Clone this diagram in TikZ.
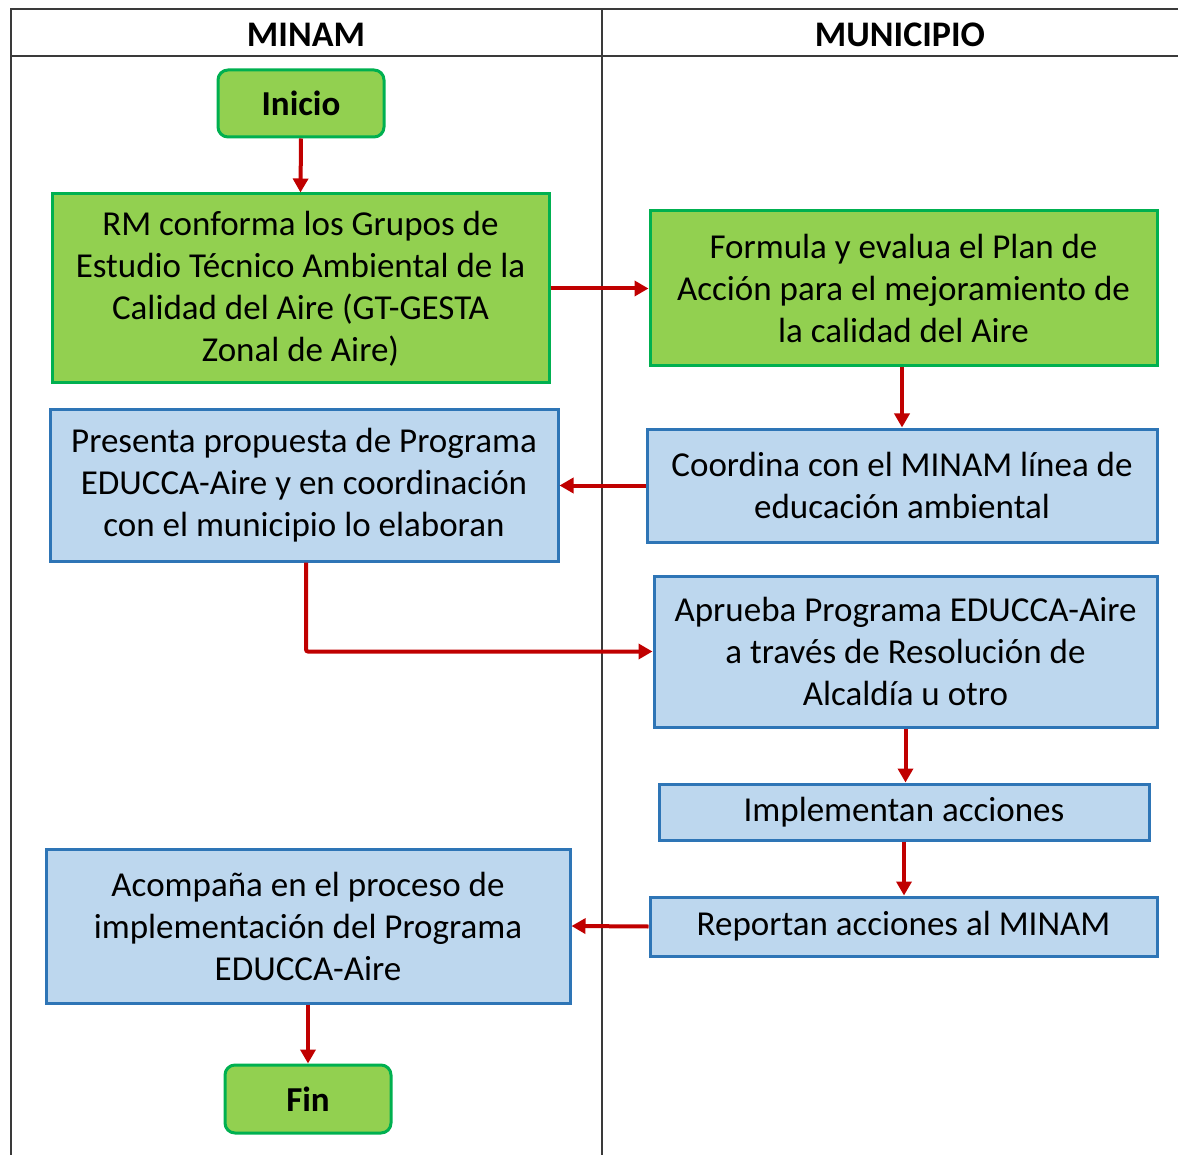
\documentclass[tikz,border=0pt]{standalone}
\usepackage{fontspec}
\setmainfont{Carlito}
\usetikzlibrary{arrows.meta}
\definecolor{gfill}{HTML}{92D050}
\definecolor{gline}{HTML}{00B050}
\definecolor{bfill}{HTML}{BDD7EE}
\definecolor{bline}{HTML}{2E75B6}
\definecolor{arrred}{HTML}{C00000}
\definecolor{lanegray}{HTML}{3A3A3A}
\tikzset{
  txt/.style={font=\fontsize{35}{42}\selectfont, align=center, inner sep=0pt},
  greenbox/.style={txt, draw=gline, fill=gfill, line width=3pt},
  bluebox/.style={txt, draw=bline, fill=bfill, line width=3pt},
  termbox/.style={greenbox, rounded corners=10pt, font=\fontsize{35}{42}\selectfont\bfseries},
  arr/.style={draw=arrred, line width=4pt, -{Triangle[length=14pt,width=15pt]}},
  lane/.style={draw=lanegray, line width=2pt},
  head/.style={font=\fontsize{36}{40}\selectfont\bfseries, inner sep=0pt}
}
\begin{document}
\begin{tikzpicture}[x=1pt,y=1pt]
\useasboundingbox (0,0) rectangle (1178,-1155);
% lanes
\draw[lane, line width=2.5pt] (1180,-9) -- (11,-9) -- (11,-1157);
\draw[lane] (11,-56) -- (1180,-56);
\draw[lane] (602,-9) -- (602,-1157);
\node[head] (hminam) at (306,-35) {MINAM};
\node[head] (hmuni) at (900,-35) {MUNICIPIO};
% nodes
\node[termbox, minimum width=166pt, minimum height=67pt] (ini) at (301,-103.5) {Inicio};
\node[greenbox, minimum width=497pt, minimum height=189pt] (rm) at (300.5,-288.5)
  {RM conforma los Grupos de\\Estudio Técnico Ambiental de la\\Calidad del Aire (GT-GESTA\\Zonal de Aire)};
\node[greenbox, minimum width=507pt, minimum height=155pt] (form) at (903.5,-288.5)
  {Formula y evalua el Plan de\\Acción para el mejoramiento de\\la calidad del Aire};
\node[bluebox, minimum width=508pt, minimum height=151pt] (pres) at (304,-485.5)
  {Presenta propuesta de Programa\\EDUCCA-Aire y en coordinación\\con el municipio lo elaboran};
\node[bluebox, minimum width=510pt, minimum height=113pt] (coord) at (902,-485.5)
  {Coordina con el MINAM línea de\\educación ambiental};
\node[bluebox, minimum width=503pt, minimum height=151pt] (apr) at (905.5,-651.5)
  {Aprueba Programa EDUCCA-Aire\\a través de Resolución de\\Alcaldía u otro};
\node[bluebox, minimum width=490pt, minimum height=56pt] (impl) at (904,-812)
  {Implementan acciones};
\node[bluebox, minimum width=507pt, minimum height=59pt] (rep) at (903.5,-926.5)
  {Reportan acciones al MINAM};
\node[bluebox, minimum width=524pt, minimum height=154pt] (acom) at (308,-926)
  {Acompaña en el proceso de\\implementación del Programa\\EDUCCA-Aire};
\node[termbox, minimum width=166pt, minimum height=68pt] (fin) at (308,-1099) {Fin};
% connectors
\draw[arr] (ini.south) -- (rm.north);
\draw[arr] (rm.east) -- (form.west);
\draw[arr] (form.south -| coord.north) -- (coord.north);
\draw[arr] (coord.west) -- (pres.east);
\draw[arr, rounded corners=2pt] ([xshift=2pt]pres.south) |- (apr.west);
\draw[arr] (apr.south) -- (apr.south |- impl.north);
\draw[arr] (impl.south) -- (impl.south |- rep.north);
\draw[arr] (rep.west) -- (acom.east);
\draw[arr] (acom.south) -- (fin.north);
\end{tikzpicture}
\end{document}
